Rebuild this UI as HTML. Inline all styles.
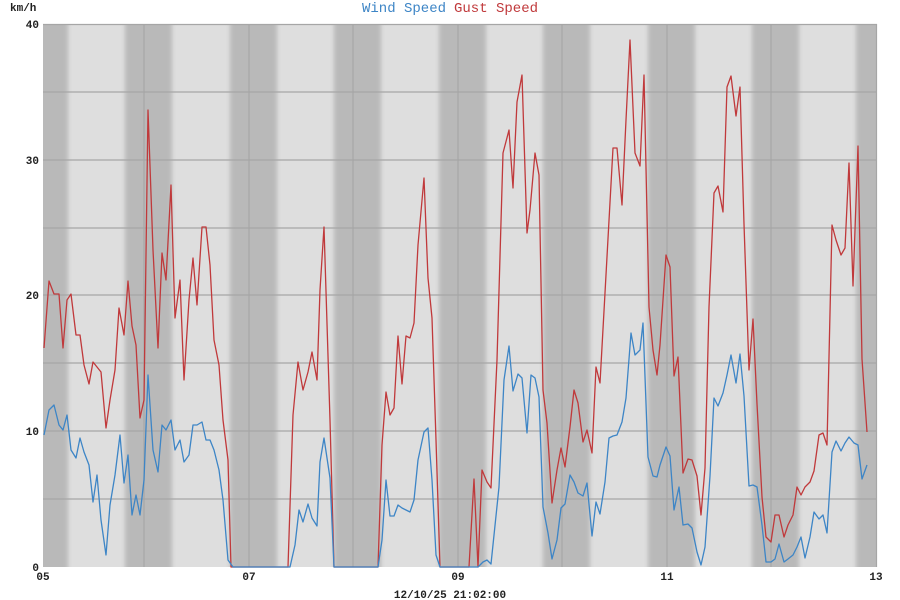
<!DOCTYPE html>
<html><head><meta charset="utf-8"><style>
body{margin:0;background:#fff;width:900px;height:600px;overflow:hidden}
svg{display:block}
text{font-family:"Liberation Mono",monospace}
</style></head><body>
<svg width="900" height="600" viewBox="0 0 900 600">
<defs>
<clipPath id="c"><rect x="43" y="24" width="834" height="543"/></clipPath>
<filter id="b" x="-20%" y="0" width="140%" height="100%"><feGaussianBlur stdDeviation="2,0"/></filter>
</defs>
<rect x="43" y="24" width="834" height="543" fill="#dedede"/>
<g clip-path="url(#c)"><g fill="#b9b9b9" filter="url(#b)">
<rect x="20" y="20" width="48" height="550"/>
<rect x="125" y="20" width="47" height="550"/>
<rect x="230" y="20" width="47" height="550"/>
<rect x="334" y="20" width="47" height="550"/>
<rect x="439" y="20" width="47" height="550"/>
<rect x="543" y="20" width="47" height="550"/>
<rect x="648" y="20" width="47" height="550"/>
<rect x="752" y="20" width="47" height="550"/>
<rect x="856" y="20" width="47" height="550"/>
</g></g>
<g stroke="#a6a6a6" stroke-width="1.2">
<line x1="43" x2="877" y1="24.5" y2="24.5"/>
<line x1="43" x2="877" y1="92" y2="92"/>
<line x1="43" x2="877" y1="160" y2="160"/>
<line x1="43" x2="877" y1="228" y2="228"/>
<line x1="43" x2="877" y1="295" y2="295"/>
<line x1="43" x2="877" y1="363" y2="363"/>
<line x1="43" x2="877" y1="431" y2="431"/>
<line x1="43" x2="877" y1="499" y2="499"/>
<line x1="144" x2="144" y1="24" y2="567"/>
<line x1="249" x2="249" y1="24" y2="567"/>
<line x1="353" x2="353" y1="24" y2="567"/>
<line x1="458" x2="458" y1="24" y2="567"/>
<line x1="562" x2="562" y1="24" y2="567"/>
<line x1="667" x2="667" y1="24" y2="567"/>
<line x1="771" x2="771" y1="24" y2="567"/>
<line x1="876.5" x2="876.5" y1="24" y2="567"/>
</g>
<polyline fill="none" stroke="#c0393b" stroke-width="1.3" stroke-linejoin="round" points="44,348 49,281 54,294 59,294 63,348 67,300 71,294 76,335 80,335 84,365 89,384 93,362 97,367 101,372 106,428 110,400 115,370 119,308 124,335 128,281 132,326 136,345 140,418 144,400 148,110 153,250 158,348 162,253 166,280 171,185 175,318 180,280 184,380 189,300 193,258 197,305 202,227 206,227 210,265 214,340 219,365 223,420 228,460 231,567 288,567 293,415 298,362 303,390 308,372 312,352 317,380 320,290 324,227 330,420 334,567 378,567 382,445 386,392 390,415 394,408 398,336 402,384 406,336 410,338 414,323 418,245 424,178 428,278 432,318 436,440 440,567 469,567 474,479 478,567 482,470 487,482 491,488 497,360 503,153 509,130 513,188 517,102 522,75 527,233 530,210 535,153 539,175 543,390 547,423 552,503 557,470 561,448 565,467 570,427 574,390 578,403 583,442 587,430 592,453 596,367 600,383 605,293 613,148 617,148 622,205 626,120 630,40 635,153 640,166 644,75 649,307 653,350 657,375 660,345 666,255 670,267 674,376 678,357 683,473 688,459 692,460 697,476 701,515 705,468 709,307 714,193 718,186 723,212 727,87 731,76 736,116 740,87 744,224 749,370 753,319 757,404 762,497 766,537 771,542 775,515 779,515 784,537 788,525 793,515 797,487 801,495 805,487 810,482 814,471 819,435 823,433 827,445 832,225 836,240 841,255 845,248 849,163 853,286 858,146 862,359 867,432"/>
<polyline fill="none" stroke="#3d85c6" stroke-width="1.3" stroke-linejoin="round" points="44,435 49,410 54,405 59,425 63,430 67,415 71,450 76,458 80,438 84,452 89,465 93,502 97,475 101,520 106,555 110,505 115,475 120,435 124,483 128,455 132,515 136,495 140,515 144,480 148,375 153,450 158,472 162,425 166,430 171,420 175,450 180,440 184,462 189,455 193,425 197,425 202,422 206,440 210,440 214,450 219,470 223,500 228,560 233,567 290,567 295,545 299,510 303,522 308,504 312,518 317,526 320,462 324,438 330,478 334,567 378,567 382,540 386,480 390,516 394,516 398,505 402,508 406,510 410,512 414,500 418,460 424,432 428,428 432,480 436,555 440,567 478,567 483,562 487,560 491,564 499,487 504,380 509,346 513,391 518,374 522,378 527,433 531,375 535,378 539,397 543,507 548,533 552,559 557,540 561,508 565,504 570,475 574,482 578,493 583,496 587,483 592,536 596,502 600,514 605,482 609,438 613,436 617,435 622,422 626,398 631,333 635,355 640,350 643,323 648,457 653,476 657,477 660,465 666,447 670,456 674,510 679,487 683,525 688,524 692,528 697,552 701,565 705,547 710,476 714,398 718,406 723,393 727,375 731,355 736,383 740,354 744,396 749,486 753,485 757,487 762,525 766,562 771,562 775,559 779,544 784,562 788,559 793,555 797,547 801,537 805,558 810,537 814,512 819,519 823,515 827,533 832,452 836,441 841,451 845,443 849,437 854,443 858,445 862,479 867,465"/>
<g font-size="11" font-weight="bold" fill="#222">
<text x="10" y="11">km/h</text>
<g text-anchor="end">
<text x="39" y="28">40</text><text x="39" y="164">30</text><text x="39" y="299">20</text><text x="39" y="435">10</text><text x="39" y="571">0</text>
</g>
<g text-anchor="middle">
<text x="43" y="580">05</text><text x="249" y="580">07</text><text x="458" y="580">09</text><text x="667" y="580">11</text><text x="876" y="580">13</text>
<text x="450" y="598">12/10/25 21:02:00</text>
</g>
</g>
<text x="362" y="12" font-size="14" fill="#3d85c6">Wind Speed</text>
<text x="454" y="12" font-size="14" fill="#c0393b">Gust Speed</text>
</svg>
</body></html>
